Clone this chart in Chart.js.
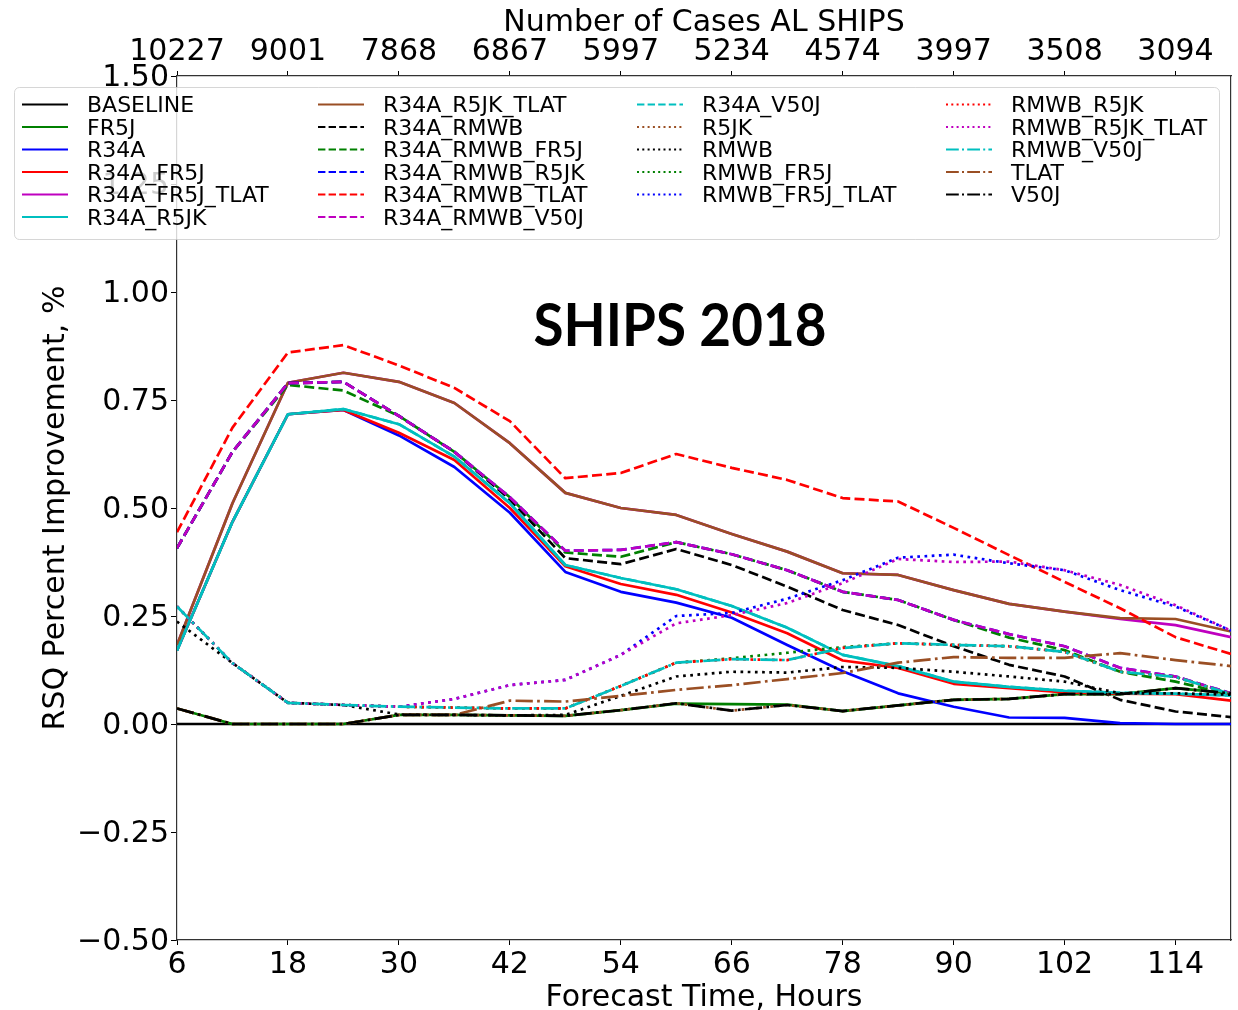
<!DOCTYPE html>
<html>
<head>
<meta charset="utf-8">
<script src="https://cdn.jsdelivr.net/npm/chart.js@4.4.1/dist/chart.umd.min.js"></script>
<style>
html, body { margin: 0; padding: 0; background: #ffffff; }
canvas { display: block; }
</style>
</head>
<body>
<canvas id="c" width="1238" height="1010"></canvas>
<script>
// ---------------- data ----------------
const hours = [6, 12, 18, 24, 30, 36, 42, 48, 54, 60, 66, 72, 78, 84, 90, 96, 102, 108, 114, 120];
const xTickHours = [6, 18, 30, 42, 54, 66, 78, 90, 102, 114];
const caseCounts = ['10227', '9001', '7868', '6867', '5997', '5234', '4574', '3997', '3508', '3094'];
const yTickValues = [-0.5, -0.25, 0, 0.25, 0.5, 0.75, 1.0, 1.25, 1.5];
const chartTitle = 'SHIPS 2018';
const topAxisTitle = 'Number of Cases AL SHIPS';
const xAxisTitle = 'Forecast Time, Hours';
const yAxisTitle = 'RSQ Percent Improvement, %';

const seriesNames = [
  'BASELINE', 'FR5J', 'R34A', 'R34A_FR5J', 'R34A_FR5J_TLAT', 'R34A_R5JK',
  'R34A_R5JK_TLAT', 'R34A_RMWB', 'R34A_RMWB_FR5J', 'R34A_RMWB_R5JK', 'R34A_RMWB_TLAT', 'R34A_RMWB_V50J',
  'R34A_V50J', 'R5JK', 'RMWB', 'RMWB_FR5J', 'RMWB_FR5J_TLAT',
  'RMWB_R5JK', 'RMWB_R5JK_TLAT', 'RMWB_V50J', 'TLAT', 'V50J'
];

const BASELINE       = [0, 0, 0, 0, 0, 0, 0, 0, 0, 0, 0, 0, 0, 0, 0, 0, 0, 0, 0, 0];
const FR5J           = [0.036, 0, 0, 0, 0.021, 0.021, 0.020, 0.019, 0.032, 0.047, 0.046, 0.045, 0.030, 0.043, 0.056, 0.058, 0.069, 0.069, 0.083, 0.071];
const R34A           = [0.170, 0.468, 0.717, 0.727, 0.668, 0.595, 0.489, 0.352, 0.306, 0.281, 0.246, 0.183, 0.122, 0.071, 0.040, 0.015, 0.014, 0.002, 0, 0];
const R34A_FR5J      = [0.170, 0.468, 0.717, 0.727, 0.674, 0.611, 0.500, 0.365, 0.324, 0.299, 0.258, 0.210, 0.147, 0.130, 0.093, 0.083, 0.073, 0.070, 0.069, 0.054];
const R34A_FR5J_TLAT = [0.183, 0.511, 0.790, 0.813, 0.792, 0.743, 0.650, 0.535, 0.500, 0.484, 0.440, 0.399, 0.349, 0.345, 0.310, 0.278, 0.260, 0.243, 0.229, 0.201];
const R34A_R5JK      = [0.170, 0.468, 0.717, 0.729, 0.694, 0.619, 0.511, 0.368, 0.338, 0.312, 0.273, 0.223, 0.160, 0.134, 0.098, 0.086, 0.077, 0.072, 0.070, 0.066];
const R34A_R5JK_TLAT = [0.183, 0.511, 0.790, 0.813, 0.792, 0.743, 0.650, 0.535, 0.500, 0.484, 0.440, 0.399, 0.349, 0.345, 0.310, 0.278, 0.260, 0.245, 0.243, 0.214];
const R34A_RMWB      = [0.407, 0.630, 0.789, 0.792, 0.713, 0.630, 0.520, 0.384, 0.370, 0.405, 0.368, 0.318, 0.264, 0.229, 0.180, 0.137, 0.110, 0.056, 0.029, 0.016];
const R34A_RMWB_FR5J = [0.407, 0.630, 0.785, 0.772, 0.713, 0.630, 0.525, 0.397, 0.387, 0.421, 0.393, 0.356, 0.306, 0.287, 0.241, 0.200, 0.171, 0.121, 0.098, 0.068];
const R34A_RMWB_R5JK = [0.407, 0.630, 0.789, 0.792, 0.713, 0.630, 0.525, 0.401, 0.403, 0.421, 0.393, 0.356, 0.306, 0.287, 0.241, 0.208, 0.180, 0.130, 0.110, 0.071];
const R34A_RMWB_TLAT = [0.444, 0.686, 0.860, 0.877, 0.830, 0.778, 0.701, 0.569, 0.581, 0.625, 0.593, 0.565, 0.523, 0.515, 0.454, 0.391, 0.329, 0.268, 0.201, 0.162];
const R34A_RMWB_V50J = [0.407, 0.630, 0.789, 0.792, 0.713, 0.630, 0.525, 0.401, 0.403, 0.421, 0.393, 0.356, 0.306, 0.287, 0.241, 0.208, 0.180, 0.130, 0.110, 0.071];
const R34A_V50J      = [0.170, 0.468, 0.717, 0.729, 0.694, 0.619, 0.511, 0.368, 0.338, 0.312, 0.273, 0.223, 0.160, 0.134, 0.098, 0.086, 0.077, 0.072, 0.070, 0.066];
const R5JK           = [0.036, 0, 0, 0, 0.021, 0.021, 0.020, 0.019, 0.032, 0.048, 0.031, 0.044, 0.030, 0.043, 0.056, 0.058, 0.069, 0.069, 0.083, 0.071];
const RMWB           = [0.237, 0.141, 0.049, 0.044, 0.022, 0.021, 0.020, 0.021, 0.065, 0.110, 0.121, 0.119, 0.132, 0.130, 0.121, 0.110, 0.098, 0.071, 0.071, 0.068];
const RMWB_FR5J      = [0.272, 0.141, 0.049, 0.044, 0.040, 0.038, 0.036, 0.036, 0.088, 0.142, 0.152, 0.165, 0.178, 0.187, 0.183, 0.180, 0.167, 0.121, 0.109, 0.069];
const RMWB_FR5J_TLAT = [0.272, 0.141, 0.049, 0.044, 0.040, 0.058, 0.090, 0.102, 0.160, 0.250, 0.257, 0.290, 0.333, 0.385, 0.392, 0.372, 0.356, 0.310, 0.272, 0.216];
const RMWB_R5JK      = [0.272, 0.141, 0.049, 0.044, 0.040, 0.038, 0.036, 0.036, 0.088, 0.142, 0.150, 0.148, 0.176, 0.187, 0.183, 0.180, 0.167, 0.121, 0.109, 0.069];
const RMWB_R5JK_TLAT = [0.272, 0.141, 0.049, 0.044, 0.040, 0.058, 0.090, 0.102, 0.160, 0.233, 0.252, 0.280, 0.326, 0.382, 0.375, 0.376, 0.356, 0.322, 0.275, 0.216];
const RMWB_V50J      = [0.272, 0.141, 0.049, 0.044, 0.040, 0.038, 0.036, 0.036, 0.088, 0.142, 0.150, 0.148, 0.176, 0.187, 0.183, 0.180, 0.167, 0.121, 0.109, 0.069];
const TLAT           = [0.036, 0, 0, 0, 0.021, 0.021, 0.054, 0.052, 0.065, 0.079, 0.090, 0.104, 0.118, 0.142, 0.155, 0.153, 0.153, 0.164, 0.148, 0.134];
const V50J           = [0.036, 0, 0, 0, 0.021, 0.021, 0.020, 0.019, 0.032, 0.048, 0.031, 0.044, 0.030, 0.043, 0.056, 0.058, 0.069, 0.069, 0.083, 0.071];

const seriesValues = [
  BASELINE, FR5J, R34A, R34A_FR5J, R34A_FR5J_TLAT, R34A_R5JK,
  R34A_R5JK_TLAT, R34A_RMWB, R34A_RMWB_FR5J, R34A_RMWB_R5JK, R34A_RMWB_TLAT, R34A_RMWB_V50J,
  R34A_V50J, R5JK, RMWB, RMWB_FR5J, RMWB_FR5J_TLAT,
  RMWB_R5JK, RMWB_R5JK_TLAT, RMWB_V50J, TLAT, V50J
];

// ---------------- styles ----------------
const C = { k: '#000000', g: '#008000', b: '#0000ff', r: '#ff0000', m: '#bf00bf', c: '#00bfbf', br: '#9a4f24' };
const seriesColor = [
  C.k, C.g, C.b, C.r, C.m, C.c,
  C.br, C.k, C.g, C.b, C.r, C.m,
  C.c, C.br, C.k, C.g, C.b,
  C.r, C.m, C.c, C.br, C.k
];
const seriesDash = [
  'solid', 'solid', 'solid', 'solid', 'solid', 'solid',
  'solid', 'dashed', 'dashed', 'dashed', 'dashed', 'dashed',
  'dashed', 'dotted', 'dotted', 'dotted', 'dotted',
  'dotted', 'dotted', 'dashdot', 'dashdot', 'dashdot'
];
const LW = 2.7;
const DASH = { solid: [], dashed: [10, 4.3], dotted: [2.7, 4.5], dashdot: [17.3, 4.3, 2.7, 4.3] };
const LEGEND_DASH = { solid: [], dashed: [7.4, 3.2], dotted: [2, 3.3], dashdot: [12.8, 3.2, 2, 3.2] };
const FONT = "'DejaVu Sans', sans-serif";

Chart.defaults.color = '#000';
Chart.defaults.font.family = FONT;

const datasets = seriesNames.map((name, i) => ({
  label: name,
  data: hours.map((h, j) => ({ x: h, y: seriesValues[i][j] })),
  borderColor: seriesColor[i],
  backgroundColor: seriesColor[i],
  borderDash: DASH[seriesDash[i]],
  borderWidth: LW,
  borderCapStyle: 'butt',
  borderJoinStyle: 'round',
  pointRadius: 0,
  pointHoverRadius: 0,
  fill: false,
  tension: 0,
  order: seriesNames.length - i,
  xAxisID: 'x',
  yAxisID: 'y'
}));

// ---------------- overlay: legend + title ----------------
const overlayPlugin = {
  id: 'overlay',
  afterDraw(chart) {
    const ctx = chart.ctx;
    ctx.save();
    // big title
    ctx.fillStyle = '#000';
    ctx.textAlign = 'center';
    ctx.textBaseline = 'alphabetic';
    let fs = 60;
    ctx.font = `bold ${fs}px Lato, 'Open Sans', sans-serif`;
    const w = ctx.measureText(chartTitle).width;
    fs = fs * 293 / w;
    ctx.font = `bold ${fs}px Lato, 'Open Sans', sans-serif`;
    ctx.save();
    ctx.translate(680, 346);
    ctx.scale(1, 1.08);
    ctx.fillText(chartTitle, 0, 0);
    ctx.restore();

    // legend box
    const bx = 14.5, by = 87.5, bw = 1205, bh = 152, rad = 5;
    ctx.beginPath();
    ctx.moveTo(bx + rad, by);
    ctx.lineTo(bx + bw - rad, by);
    ctx.arcTo(bx + bw, by, bx + bw, by + rad, rad);
    ctx.lineTo(bx + bw, by + bh - rad);
    ctx.arcTo(bx + bw, by + bh, bx + bw - rad, by + bh, rad);
    ctx.lineTo(bx + rad, by + bh);
    ctx.arcTo(bx, by + bh, bx, by + bh - rad, rad);
    ctx.lineTo(bx, by + rad);
    ctx.arcTo(bx, by, bx + rad, by, rad);
    ctx.closePath();
    ctx.fillStyle = 'rgba(255,255,255,0.8)';
    ctx.fill();
    ctx.strokeStyle = 'rgba(204,204,204,0.8)';
    ctx.lineWidth = 1;
    ctx.stroke();

    const colX = [22, 318, 637, 946];
    const perCol = [6, 6, 5, 5];
    const rowY0 = 104.5, rowH = 22.5;
    ctx.font = `22px ${FONT}`;
    ctx.textAlign = 'left';
    ctx.textBaseline = 'middle';
    let k = 0;
    for (let c = 0; c < colX.length; c++) {
      for (let r = 0; r < perCol[c]; r++, k++) {
        const ds = chart.data.datasets[k];
        const y = rowY0 + r * rowH;
        ctx.beginPath();
        ctx.setLineDash(LEGEND_DASH[seriesDash[k]]);
        ctx.lineCap = 'butt';
        ctx.lineWidth = 2.2;
        ctx.strokeStyle = ds.borderColor;
        ctx.moveTo(colX[c], y);
        ctx.lineTo(colX[c] + 46, y);
        ctx.stroke();
        ctx.setLineDash([]);
        ctx.fillStyle = '#000';
        ctx.fillText(ds.label, colX[c] + 65, y + 2);
      }
    }
    ctx.restore();
  }
};

const tickFont = { family: FONT, size: 30, lineHeight: 1.2 };
const titleFont = { family: FONT, size: 30, lineHeight: 1.0 };

new Chart(document.getElementById('c'), {
  type: 'line',
  data: { datasets },
  options: {
    responsive: false,
    animation: false,
    events: [],
    layout: { padding: 0, autoPadding: false },
    plugins: { legend: { display: false }, tooltip: { enabled: false }, title: { display: false } },
    scales: {
      x: {
        type: 'linear', position: 'bottom', min: 6, max: 120,
        afterBuildTicks: (s) => { s.ticks = xTickHours.map(v => ({ value: v })); },
        afterFit: (s) => { s.height = 70; },
        ticks: { font: tickFont, padding: 2, maxRotation: 0, autoSkip: false, color: '#000',
                 callback: (v) => String(v) },
        grid: { drawOnChartArea: false, drawTicks: true, tickLength: 5, color: '#000', tickWidth: 1 },
        border: { display: true, color: '#333', width: 1.2 },
        title: { display: true, text: xAxisTitle, font: titleFont, padding: { top: 0, bottom: -3 }, color: '#000' }
      },
      x2: {
        type: 'linear', position: 'top', min: 6, max: 120,
        afterBuildTicks: (s) => { s.ticks = xTickHours.map(v => ({ value: v })); },
        afterFit: (s) => { s.height = 76; },
        ticks: { font: tickFont, padding: 1, maxRotation: 0, autoSkip: false, color: '#000',
                 callback: (v) => caseCounts[xTickHours.indexOf(v)] },
        grid: { drawOnChartArea: false, drawTicks: true, tickLength: 5, color: '#000', tickWidth: 1 },
        border: { display: true, color: '#333', width: 1.2 },
        title: { display: true, text: topAxisTitle, font: titleFont, padding: { top: 8, bottom: 0 }, color: '#000' }
      },
      y: {
        type: 'linear', position: 'left', min: -0.5, max: 1.5,
        afterBuildTicks: (s) => { s.ticks = yTickValues.map(v => ({ value: v })); },
        afterFit: (s) => { s.width = 177; },
        ticks: { font: tickFont, padding: 2, labelOffset: 2.5, autoSkip: false, color: '#000',
                 callback: (v) => (v < 0 ? '\u2212' : '') + Math.abs(v).toFixed(2) },
        grid: { drawOnChartArea: false, drawTicks: true, tickLength: 6, color: '#000', tickWidth: 1 },
        border: { display: true, color: '#333', width: 1.2 },
        title: { display: true, text: yAxisTitle, font: titleFont, padding: { top: 41, bottom: 0 }, color: '#000' }
      },
      y2: {
        type: 'linear', position: 'right', min: -0.5, max: 1.5,
        afterFit: (s) => { s.width = 7; },
        ticks: { display: false },
        grid: { drawOnChartArea: false, drawTicks: false },
        border: { display: true, color: '#333', width: 1.2 }
      }
    }
  },
  plugins: [overlayPlugin]
});
</script>
</body>
</html>
